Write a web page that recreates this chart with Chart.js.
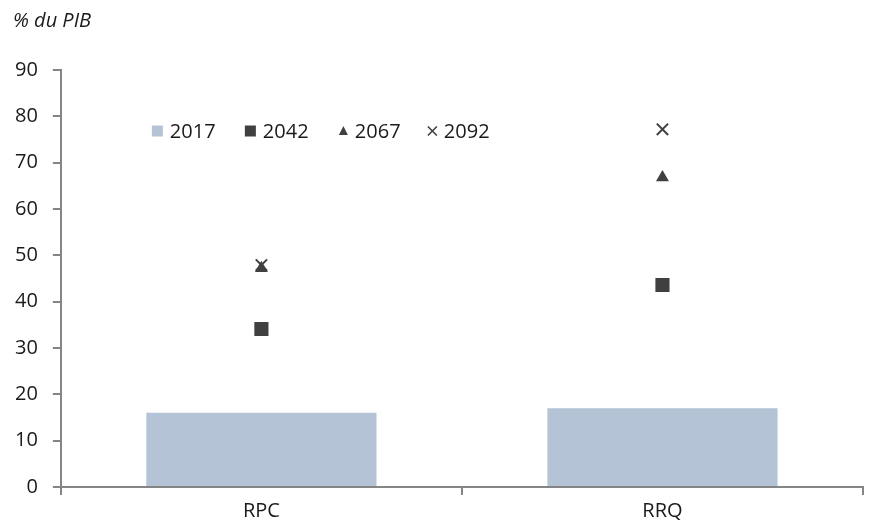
<!DOCTYPE html>
<html>
<head>
<meta charset="utf-8">
<script src="https://cdn.jsdelivr.net/npm/chart.js@4"></script>
<style>
  html, body { margin: 0; padding: 0; background: #ffffff; overflow: hidden; }
  canvas { display: block; }
</style>
</head>
<body>
<canvas id="pensionChart" width="873" height="529"></canvas>
<script>
const categories = ["RPC", "RRQ"];
const years = ["2017", "2042", "2067", "2092"];
const values2017 = [16.0, 17.0];
const values2042 = [34.1, 43.6];
const values2067 = [47.2, 66.8];
const values2092 = [47.9, 77.2];
const yTicks = [0, 10, 20, 30, 40, 50, 60, 70, 80, 90];
const unitLabel = "% du PIB";

const barColor = "#b4c3d6";
const markColor = "#404040";
const axisColor = "#858585";
const textColor = "#1a1a1a";
const fontFamily = "'Open Sans', 'Noto Sans', sans-serif";

// unit label top-left + legend drawn inside the plot, like the original
const annotations = {
    id: "annotations",
    afterDraw(chart) {
        const ctx = chart.ctx;
        const area = chart.chartArea;
        ctx.save();
        ctx.fillStyle = textColor;
        ctx.textBaseline = "middle";
        ctx.font = "italic 20px " + fontFamily;
        ctx.fillText(unitLabel, 13, 21);

        const y = area.top + 61;
        const items = [
            { x: area.left + 91, style: "rect", color: barColor, size: 11 },
            { x: area.left + 184, style: "rect", color: markColor, size: 11 },
            { x: area.left + 278, style: "triangle", color: markColor, size: 9 },
            { x: area.left + 367, style: "cross", color: markColor, size: 9 }
        ];
        ctx.font = "20px " + fontFamily;
        items.forEach((it, i) => {
            ctx.fillStyle = it.color;
            ctx.strokeStyle = it.color;
            if (it.style === "rect") {
                ctx.fillRect(it.x, y - it.size / 2, it.size, it.size);
            } else if (it.style === "triangle") {
                ctx.beginPath();
                ctx.moveTo(it.x, y + 4);
                ctx.lineTo(it.x + it.size, y + 4);
                ctx.lineTo(it.x + it.size / 2, y - 5);
                ctx.closePath();
                ctx.fill();
            } else {
                ctx.lineWidth = 1.6;
                ctx.beginPath();
                ctx.moveTo(it.x, y - 4.5);
                ctx.lineTo(it.x + it.size, y + 4.5);
                ctx.moveTo(it.x + it.size, y - 4.5);
                ctx.lineTo(it.x, y + 4.5);
                ctx.stroke();
            }
            ctx.fillStyle = textColor;
            ctx.fillText(years[i], it.x + it.size + 7, y + 1);
        });
        ctx.restore();
    }
};

const markerSet = (label, data, style, radius) => ({
    type: "line",
    label: label,
    data: data,
    showLine: false,
    pointStyle: style,
    pointRadius: radius,
    pointHoverRadius: radius,
    pointBackgroundColor: markColor,
    pointBorderColor: markColor,
    pointBorderWidth: style === "crossRot" ? 2 : 0,
    order: 0
});

const ctx = document.getElementById("pensionChart").getContext("2d");

new Chart(ctx, {
    type: "bar",
    data: {
        labels: categories,
        datasets: [
            {
                label: years[0],
                data: values2017,
                backgroundColor: barColor,
                borderWidth: 0,
                categoryPercentage: 1,
                barPercentage: 0.574,
                order: 1
            },
            markerSet(years[1], values2042, "rect", 10),
            markerSet(years[2], values2067, "triangle", 7.5),
            markerSet(years[3], values2092, "crossRot", 8)
        ]
    },
    options: {
        responsive: false,
        animation: false,
        layout: {
            padding: { left: 0, right: 0, top: 70, bottom: 2 }
        },
        plugins: {
            legend: { display: false },
            tooltip: { enabled: false },
            title: { display: false }
        },
        scales: {
            x: {
                grid: {
                    offset: true,
                    drawOnChartArea: false,
                    drawTicks: true,
                    tickLength: 8,
                    color: axisColor,
                    lineWidth: 2
                },
                border: { color: axisColor, width: 2 },
                ticks: {
                    color: textColor,
                    padding: 4,
                    font: { family: fontFamily, size: 20 }
                }
            },
            y: {
                min: 0,
                max: 90,
                afterBuildTicks: axis => { axis.ticks = yTicks.map(v => ({ value: v })); },
                grid: {
                    drawOnChartArea: false,
                    drawTicks: true,
                    tickLength: 8,
                    color: axisColor,
                    lineWidth: 2
                },
                border: { color: axisColor, width: 2 },
                ticks: {
                    color: textColor,
                    padding: 15,
                    font: { family: fontFamily, size: 20 }
                }
            }
        }
    },
    plugins: [annotations]
});
</script>
</body>
</html>
